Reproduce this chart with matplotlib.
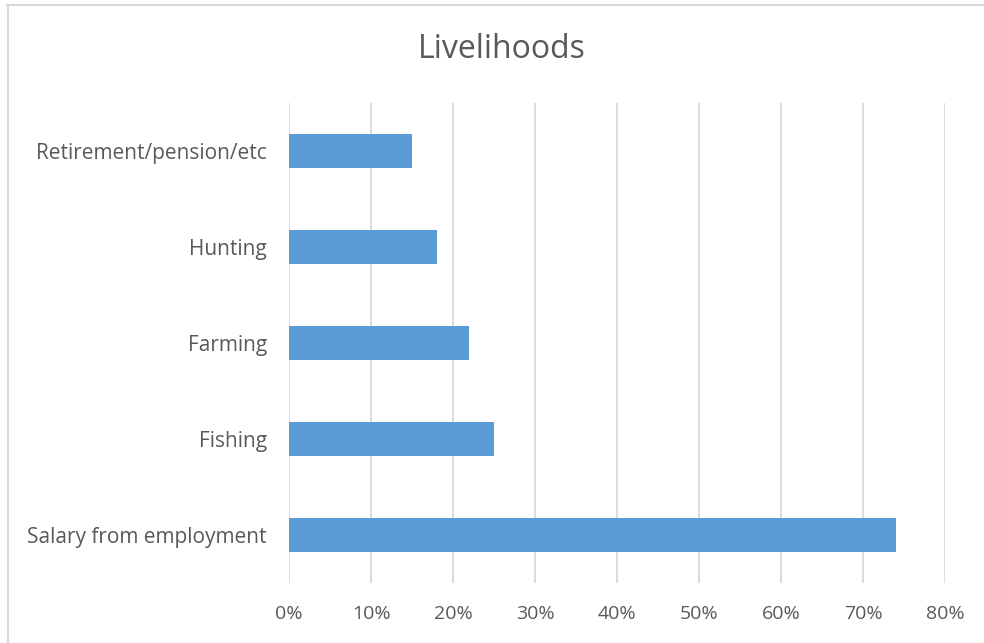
import matplotlib.pyplot as plt
from matplotlib.lines import Line2D
from matplotlib.ticker import PercentFormatter

plt.rcParams['font.family'] = ['Open Sans', 'DejaVu Sans']

# data
categories = ['Salary from employment', 'Fishing', 'Farming', 'Hunting', 'Retirement/pension/etc']
values = [74, 25, 22, 18, 15]
xticks = [0, 10, 20, 30, 40, 50, 60, 70, 80]

W, H = 984, 643
fig = plt.figure(figsize=(W / 100, H / 100), dpi=100)
ax = fig.add_axes([289 / W, 1 - 583 / H, (945 - 289) / W, (583 - 103) / H])

ax.barh(range(len(categories)), values, height=0.355, color='#5b9bd5', zorder=3)

ax.set_xlim(0, 80)
ax.set_ylim(-0.5, len(categories) - 0.5)
ax.set_xticks(xticks)
ax.xaxis.set_major_formatter(PercentFormatter(decimals=0))
ax.set_yticks(range(len(categories)))
ax.set_yticklabels(categories)
ax.grid(axis='x', color='#d9d9d9', linewidth=1.3, zorder=0)
ax.tick_params(length=0, labelcolor='#595959')
ax.tick_params(axis='y', labelsize=15, pad=16)
ax.tick_params(axis='x', labelsize=14, pad=16)
for s in ax.spines.values():
    s.set_visible(False)

fig.text(502 / W, 1 - 50 / H, 'Livelihoods', ha='center', va='center',
         fontsize=23, color='#595959')

# chart frame (only top/left visible)
fig.add_artist(Line2D([7 / W, 1], [1 - 5 / H, 1 - 5 / H], color='#d9d9d9', lw=1.5))
fig.add_artist(Line2D([7.5 / W, 7.5 / W], [0, 1 - 5 / H], color='#d9d9d9', lw=1.5))

fig.savefig('out.png', dpi=100)
